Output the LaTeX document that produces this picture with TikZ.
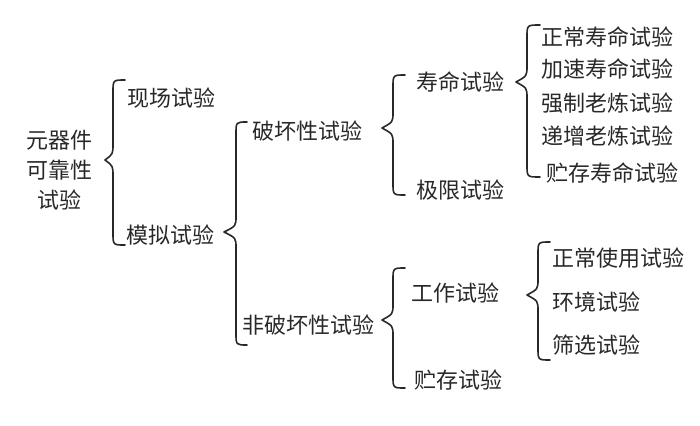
\documentclass[tikz,border=0pt]{standalone}
\usepackage{fontspec}
\newfontfamily\cjk{Noto Sans CJK SC}
\definecolor{ink}{RGB}{40,40,40}
\newcommand\mybrace[6]{%
  \draw[bracestyle] (#3,#4) .. controls (#1,#4) .. (#1,#4+12)
    -- (#1,#5-16) .. controls (#1,#5-6) .. (#2,#5)
    .. controls (#1,#5+6) .. (#1,#5+16)
    -- (#1,#6-12) .. controls (#1,#6) .. (#3,#6);}
\begin{document}
\begin{tikzpicture}[x=1pt,y=-1pt,
  lbl/.style={anchor=west,inner sep=0pt,text=ink,font=\cjk\fontsize{22}{30}\selectfont},
  bracestyle/.style={draw=ink,line width=1.6pt,line cap=round,line join=round}]
\useasboundingbox (0,0) rectangle (700,425);
% root
\node[lbl,anchor=center,align=center] (root) at (59,170) {元器件\\可靠性\\试验};
% level 1
\node[lbl] (xc) at (127,98) {现场试验};
\node[lbl] (mn) at (126,235) {模拟试验};
\mybrace{113}{105}{125}{80}{160}{245}
% level 2
\node[lbl] (ph) at (252,131) {破坏性试验};
\node[lbl] (fph) at (242,325) {非破坏性试验};
\mybrace{236}{224}{247}{122}{232}{345}
% level 3 under 破坏性
\node[lbl] (sm) at (416,82) {寿命试验};
\node[lbl] (jx) at (416,190) {极限试验};
\mybrace{393}{382}{405}{75}{128}{195}
% level 4 under 寿命
\node[lbl] (a1) at (541,37) {正常寿命试验};
\node[lbl] (a2) at (541,69) {加速寿命试验};
\node[lbl] (a3) at (541,103) {强制老炼试验};
\node[lbl] (a4) at (541,136) {递增老炼试验};
\node[lbl] (a5) at (546,173) {贮存寿命试验};
\mybrace{527}{516}{540}{25}{82}{177}
% level 3 under 非破坏性
\node[lbl] (gz) at (411,293) {工作试验};
\node[lbl] (zc) at (414,380) {贮存试验};
\mybrace{393}{382}{405}{268}{320}{388}
% level 4 under 工作
\node[lbl] (b1) at (552,258) {正常使用试验};
\node[lbl] (b2) at (552,302) {环境试验};
\node[lbl] (b3) at (552,345) {筛选试验};
\mybrace{538}{527}{550}{242}{295}{360}
\end{tikzpicture}
\end{document}
